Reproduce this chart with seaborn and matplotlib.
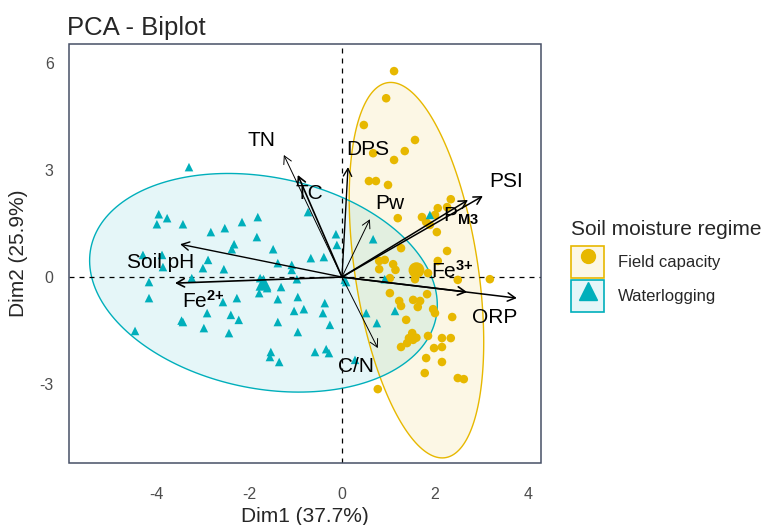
import numpy as np
import pandas as pd
import matplotlib
matplotlib.use("Agg")
import matplotlib.pyplot as plt
import seaborn as sns
from matplotlib.patches import Patch, Rectangle, Polygon
from matplotlib.lines import Line2D
from matplotlib.legend_handler import HandlerTuple

# ---------------- data ----------------
groups = ["Field capacity", "Waterlogging"]

fc_dim1 = [1.12, 0.95, 0.47, 1.57, 1.35, 0.67, 1.12, 0.58, 0.73, 0.99,
           2.34, 2.26, 2.06, 1.20, 1.72, 1.81, 1.89, 2.00, 2.04, 2.26,
           1.27, 0.92, 1.10, 0.80, 2.06, 1.85, 2.49, 3.18, 1.03, 1.57,
           1.03, 1.23, 1.27, 1.53, 1.68, 1.63, 1.83, 1.96, 2.00, 1.38,
           2.37, 1.85, 2.15, 2.34, 1.51, 1.44, 1.40, 1.53, 1.60, 1.27,
           1.98, 2.15, 1.81, 2.15, 1.78, 2.49, 2.62, 0.77, 0.80, 1.15]
fc_dim2 = [5.77, 5.01, 4.26, 3.84, 3.53, 3.47, 3.28, 2.69, 2.69, 2.58,
           2.18, 1.96, 1.93, 1.65, 1.68, 1.54, 1.46, 1.74, 1.26, 0.73,
           0.81, 0.48, 0.36, 0.22, 0.45, 0.11, -0.08, -0.06, -0.03, -0.06,
           -0.45, -0.67, -0.81, -0.64, -0.67, -0.84, -0.48, -0.90, -1.01, -1.20,
           -1.12, -1.65, -1.71, -1.71, -1.57, -1.71, -1.85, -1.76, -1.70, -1.96,
           -1.99, -1.96, -2.27, -2.38, -2.69, -2.83, -2.86, -3.14, 0.45, 0.20]

wl_dim1 = [-3.29, -3.94, -3.76, -3.98, -3.42, -2.82, -2.52, -2.15, -1.81, -1.83,
           -2.32, -2.37, -1.48, -0.73, -0.13, -0.11, -0.67, -0.39, -1.38, -1.08,
           -1.08, -4.28, -3.87, -2.88, -2.99, -2.54, -3.85, -4.15, -3.23, -1.76,
           -1.66, -1.61, -1.78, -1.31, -0.97, -4.15, -2.56, -2.26, -1.38, -0.95,
           -0.37, -1.03, -0.82, -0.41, -2.90, -2.39, -2.22, -3.42, -1.38, -0.26,
           -2.97, -2.43, -0.95, -4.45, -1.53, -1.55, -1.35, -0.58, -0.34, -0.28,
           0.09, 0.06, 1.89, 0.67, 0.92, 0.52, 0.75, 1.14, 0.28, -3.45]
wl_dim2 = [3.08, 1.76, 1.65, 1.48, 1.48, 1.26, 1.37, 1.54, 1.68, 1.12,
           0.92, 0.78, 0.78, 1.82, 1.20, 0.90, 0.53, 0.56, 0.39, 0.34,
           0.20, 0.62, 0.62, 0.48, 0.25, 0.22, 0.28, -0.14, -0.03, -0.03,
           -0.17, -0.31, -0.45, -0.28, -0.06, -0.59, -0.70, -0.59, -0.62, -0.56,
           -0.73, -0.95, -0.90, -1.01, -1.01, -1.06, -1.20, -1.26, -1.26, -1.34,
           -1.43, -1.57, -1.54, -1.51, -2.10, -2.24, -2.38, -2.10, -2.02, -2.13,
           -0.14, -0.08, 1.74, 1.06, -0.06, -1.01, -1.29, -0.95, -2.32, -1.22]

var_labels = ["TN", "TC", "DPS", "Pw", r"P$_{\mathbf{M3}}$", "PSI",
              r"Fe$^{\mathbf{3}\mathbf{+}}$", "ORP", "C/N", "Soil pH",
              r"Fe$^{\mathbf{2}\mathbf{+}}$"]
var_dim1 = [-1.25, -0.95, 0.13, 0.60, 2.71, 3.03, 2.69, 3.76, 0.77, -3.48, -3.59]
var_dim2 = [3.42, 2.86, 3.08, 1.62, 2.16, 2.27, -0.42, -0.59, -1.99, 0.92, -0.17]

x_ticks = [-4, -2, 0, 2, 4]
y_ticks = [-3, 0, 3, 6]
x_title = "Dim1 (37.7%)"
y_title = "Dim2 (25.9%)"
plot_title = "PCA - Biplot"
legend_title = "Soil moisture regime"

# ---------------- style ----------------
palette = {"Field capacity": "#E7B800", "Waterlogging": "#00AFBB"}
markers = {"Field capacity": "o", "Waterlogging": "^"}
# label offsets (layout only) relative to arrow tips
label_offsets = [(-0.49, 0.42), (0.24, -0.51), (0.43, 0.48), (0.43, 0.45),
                 (-0.15, -0.45), (0.50, 0.42), (-0.32, 0.59), (-0.47, -0.53),
                 (-0.47, -0.53), (-0.43, -0.50), (0.60, -0.50)]
arrow_lw = [0.7, 1.2, 1.0, 0.7, 1.1, 1.1, 1.2, 1.1, 0.7, 1.0, 1.2]

sns.set_style("white")
plt.rcParams["font.family"] = ["Liberation Sans", "DejaVu Sans"]
plt.rcParams["mathtext.fontset"] = "custom"
plt.rcParams["mathtext.rm"] = "Liberation Sans"
plt.rcParams["mathtext.it"] = "Liberation Sans"
plt.rcParams["mathtext.bf"] = "Liberation Sans:bold"

df = pd.DataFrame({
    "Dim1": fc_dim1 + wl_dim1,
    "Dim2": fc_dim2 + wl_dim2,
    "Group": [groups[0]] * len(fc_dim1) + [groups[1]] * len(wl_dim1),
})

fig = plt.figure(figsize=(7.71, 5.25), dpi=100)
ax = fig.add_axes([0.0895, 0.1181, 0.6122, 0.7981])

ax.set_xlim(-5.87, 4.28)
ax.set_ylim(-5.21, 6.53)

# ellipses (normal, 95%)
t = np.linspace(0, 2 * np.pi, 200)
for g in groups:
    sub = df[df.Group == g]
    xy = sub[["Dim1", "Dim2"]].to_numpy()
    mu = xy.mean(axis=0)
    cov = np.cov(xy.T)
    vals, vecs = np.linalg.eigh(cov)
    r = 2.5
    circ = np.vstack([np.cos(t), np.sin(t)])
    pts = (vecs @ (np.sqrt(vals)[:, None] * circ)) * r + mu[:, None]
    ax.add_patch(Polygon(pts.T, closed=True, facecolor=palette[g], alpha=0.1,
                         edgecolor="none", zorder=1))
    ax.add_patch(Polygon(pts.T, closed=True, facecolor="none",
                         edgecolor=palette[g], lw=1.0, zorder=1.5))

ax.axhline(0, color="black", lw=0.9, ls=(0, (4, 4)), zorder=2)
ax.axvline(0, color="black", lw=0.9, ls=(0, (4, 4)), zorder=2)

sns.scatterplot(data=df, x="Dim1", y="Dim2", hue="Group", style="Group",
                palette=palette, markers=markers, s=38, linewidth=0,
                legend=False, ax=ax, zorder=3)

# group mean points
means = df.groupby("Group")[["Dim1", "Dim2"]].mean().reset_index()
sns.scatterplot(data=means, x="Dim1", y="Dim2", hue="Group", style="Group",
                palette=palette, markers=markers, s=130, linewidth=0,
                legend=False, ax=ax, zorder=3)

# variable arrows
for lab, x, y, (dx, dy), lw in zip(var_labels, var_dim1, var_dim2,
                                   label_offsets, arrow_lw):
    ax.annotate("", xy=(x, y), xytext=(0, 0),
                arrowprops=dict(arrowstyle="->,head_length=0.55,head_width=0.3",
                                color="black", lw=lw, shrinkA=0, shrinkB=0),
                zorder=4)
    ax.text(x + dx, y + dy, lab, fontsize=15, ha="center", va="center",
            color="black", zorder=5)

ax.set_xticks(x_ticks)
ax.set_yticks(y_ticks)
ax.set_xticklabels([str(v) for v in x_ticks])
ax.set_yticklabels([str(v) for v in y_ticks])
ax.tick_params(axis="both", direction="out", length=5, width=1,
               color="#333333", labelcolor="#4d4d4d", labelsize=11.5, pad=3)

for s in ["top", "right"]:
    ax.spines[s].set_visible(False)
ax.spines["bottom"].set_position(("outward", 9))
ax.spines["left"].set_position(("outward", 3))
ax.spines["bottom"].set_visible(False)
ax.spines["left"].set_visible(False)
ax.add_patch(Rectangle((0, 0), 1, 1, transform=ax.transAxes, fill=False,
                       edgecolor="#465066", lw=1.1, clip_on=False, zorder=10))

ax.set_xlabel(x_title, fontsize=15, labelpad=4)
ax.set_ylabel(y_title, fontsize=15, labelpad=8)
fig.text(67 / 771, 1 - 28 / 525, plot_title, fontsize=18.5, ha="left", va="center")

handles = []
for g in groups:
    box = Patch(facecolor=matplotlib.colors.to_rgba(palette[g], 0.1),
                edgecolor=palette[g], lw=1.2)
    mk = Line2D([], [], marker=markers[g], color=palette[g], linestyle="None",
                markersize=10 if g == groups[0] else 13)
    handles.append((box, mk))
leg = fig.legend(handles, groups, handler_map={tuple: HandlerTuple(ndivide=1, pad=0)},
                 title=legend_title, loc="center left", bbox_to_anchor=(0.730, 0.493),
                 frameon=False, fontsize=12, title_fontsize=15, handlelength=2.0,
                 handleheight=2.6, labelspacing=0.12, borderpad=0, handletextpad=0.8,
                 alignment="left")
leg._legend_box.sep = 5

fig.savefig("out.png", dpi=100)
